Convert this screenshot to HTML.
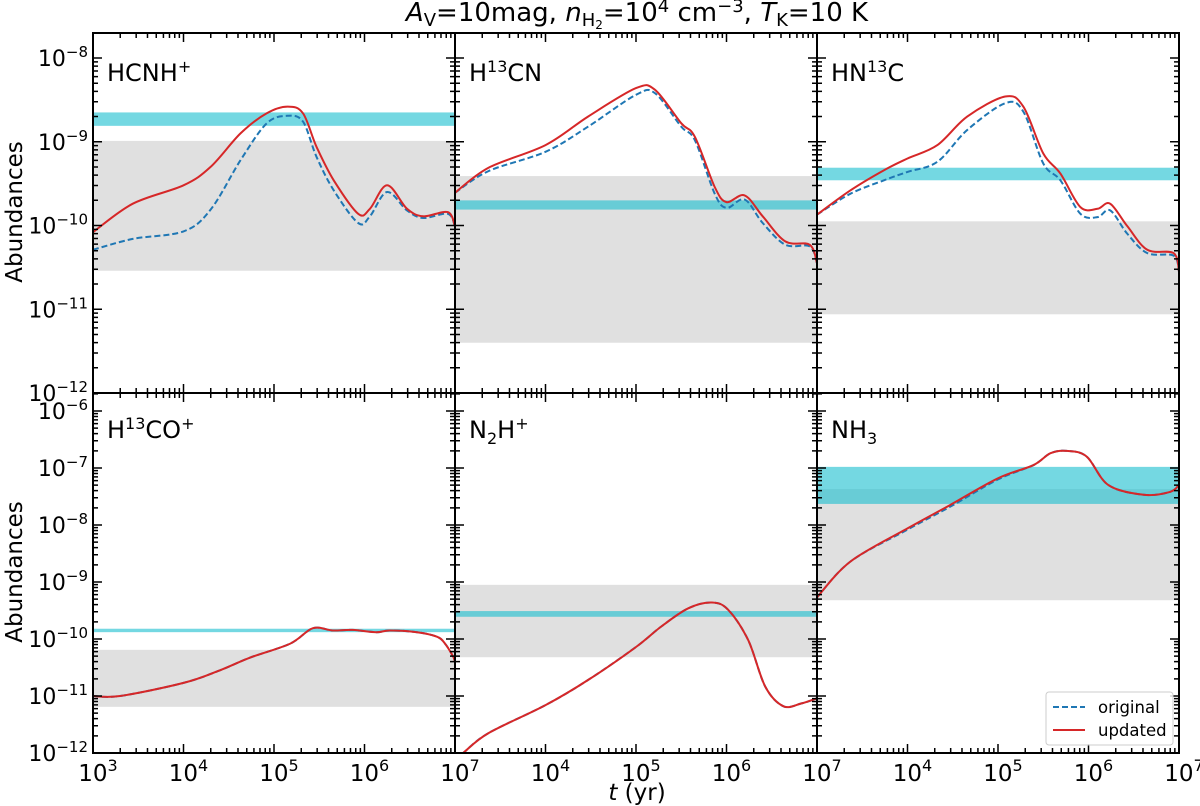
<!DOCTYPE html>
<html><head><meta charset="utf-8"><style>
html,body{margin:0;padding:0;background:#fff;}
svg{display:block;font-family:"DejaVu Sans","Liberation Sans",sans-serif;}
</style></head><body>
<svg id="chart" width="1200" height="806" viewBox="0 0 1200 806" xmlns="http://www.w3.org/2000/svg">
<text x="637" y="21" font-size="26" text-anchor="middle"><tspan font-style="italic">A</tspan><tspan font-size="18" dy="5">V</tspan><tspan dy="-5">=10mag, </tspan><tspan font-style="italic">n</tspan><tspan font-size="18" dy="5">H</tspan><tspan font-size="12" dy="3">2</tspan><tspan dy="-8">=10</tspan><tspan font-size="18" dy="-9">4</tspan><tspan dy="9"> cm</tspan><tspan font-size="18" dy="-9">−3</tspan><tspan dy="9">, </tspan><tspan font-style="italic">T</tspan><tspan font-size="18" dy="5">K</tspan><tspan dy="-5">=10 K</tspan></text>
<text x="637" y="800" font-size="23" text-anchor="middle"><tspan font-style="italic">t</tspan> (yr)</text>
<text transform="translate(22,212) rotate(-90)" font-size="23" text-anchor="middle">Abundances</text>
<text transform="translate(22,572) rotate(-90)" font-size="23" text-anchor="middle">Abundances</text>
<g id="panels"></g>
<g>
<rect x="1046" y="692" width="127" height="53" rx="3" fill="#fff" fill-opacity="0.85" stroke="#ccc" stroke-width="1"/>
<line x1="1053" y1="707" x2="1085" y2="707" stroke="#1f77b4" stroke-width="2" stroke-dasharray="6,3"/>
<text x="1098" y="713" font-size="16.5">original</text>
<line x1="1053" y1="730" x2="1085" y2="730" stroke="#d62728" stroke-width="2"/>
<text x="1098" y="736" font-size="16.5">updated</text>
</g>
</svg>
<script>
// ---- data (log10 time, log10 abundance) ----
const hcnhT   = [3.0, 3.44, 4.0, 4.3, 4.63, 4.92, 5.15, 5.32, 5.47, 5.66, 5.93, 6.06, 6.25, 6.47, 6.65, 6.92, 7.0];
const hcnhUpd = [-10.08, -9.74, -9.52, -9.30, -8.90, -8.66, -8.58, -8.66, -9.06, -9.46, -9.86, -9.80, -9.52, -9.80, -9.89, -9.84, -10.01];
const hcnhOrg = [-10.29, -10.16, -10.07, -9.81, -9.22, -8.78, -8.69, -8.76, -9.18, -9.58, -9.97, -9.89, -9.60, -9.82, -9.91, -9.86, -10.01];
const h13cnT   = [3.0, 3.37, 4.0, 4.47, 5.0, 5.21, 5.5, 5.65, 5.87, 6.0, 6.2, 6.4, 6.65, 6.92, 7.0];
const h13cnUpd = [-9.61, -9.31, -9.04, -8.70, -8.36, -8.38, -8.78, -8.94, -9.54, -9.72, -9.64, -9.89, -10.19, -10.23, -10.45];
const h13cnOrg = [-9.61, -9.35, -9.12, -8.82, -8.44, -8.42, -8.82, -8.98, -9.62, -9.79, -9.69, -9.97, -10.23, -10.25, -10.45];
const hn13cT   = [3.0, 3.37, 3.74, 4.0, 4.33, 4.66, 5.08, 5.28, 5.5, 5.69, 5.91, 6.1, 6.24, 6.43, 6.65, 6.94, 7.0];
const hn13cUpd = [-9.87, -9.58, -9.34, -9.20, -9.04, -8.70, -8.46, -8.58, -9.14, -9.38, -9.78, -9.80, -9.74, -10.01, -10.29, -10.33, -10.55];
const hn13cOrg = [-9.87, -9.62, -9.46, -9.36, -9.24, -8.86, -8.54, -8.64, -9.26, -9.46, -9.86, -9.90, -9.82, -10.10, -10.33, -10.36, -10.55];
const hcoT   = [3.0, 3.3, 4.0, 4.4, 4.73, 5.18, 5.43, 5.65, 5.87, 6.13, 6.28, 6.58, 6.80, 6.89, 6.98, 7.0];
const hcoUpd = [-11.0, -11.0, -10.77, -10.55, -10.33, -10.08, -9.81, -9.85, -9.84, -9.88, -9.85, -9.88, -9.96, -10.08, -10.31, -10.4];
const hcoOrg = [-11.0, -11.0, -10.77, -10.55, -10.33, -10.08, -9.81, -9.85, -9.84, -9.88, -9.85, -9.88, -9.96, -10.08, -10.31, -10.4];
const n2hT   = [3.0, 3.09, 3.37, 4.0, 4.47, 5.0, 5.28, 5.58, 5.84, 6.02, 6.24, 6.43, 6.63, 6.83, 7.0];
const n2hUpd = [-12.1, -12.0, -11.65, -11.16, -10.72, -10.14, -9.78, -9.46, -9.36, -9.49, -10.02, -10.84, -11.18, -11.13, -11.04];
const n2hOrg = [-12.1, -12.0, -11.65, -11.16, -10.72, -10.14, -9.78, -9.46, -9.36, -9.49, -10.02, -10.84, -11.18, -11.13, -11.04];
const nh3T   = [3.0, 3.37, 4.0, 4.47, 5.0, 5.39, 5.58, 5.76, 5.98, 6.22, 6.61, 6.90, 7.0];
const nh3Upd = [-9.27, -8.64, -8.06, -7.65, -7.18, -6.95, -6.74, -6.70, -6.80, -7.30, -7.47, -7.42, -7.30];
const nh3Org = [-9.27, -8.64, -8.08, -7.68, -7.20, -6.95, -6.74, -6.70, -6.80, -7.30, -7.47, -7.42, -7.30];
// observed ranges [low, high] in log10
const cyanBands = [[-8.81, -8.65], [-9.81, -9.70], [-9.46, -9.31], [-9.88, -9.82], [-9.61, -9.51], [-7.63, -6.98]];
const grayBands = [[-10.54, -8.99], [-11.40, -9.41], [-11.06, -9.95], [-11.19, -10.19], [-10.32, -9.05], [-9.32, -7.37]];
const panelNames = ["HCNH+", "H13CN", "HN13C", "H13CO+", "N2H+", "NH3"];
const xTickExps = [3, 4, 5, 6, 7];
const yTickExpsTop = [-8, -9, -10, -11, -12];
const yTickExpsBottom = [-6, -7, -8, -9, -10, -11, -12];

const NS = "http://www.w3.org/2000/svg";
const root = document.getElementById("panels");
function mk(tag, attrs, parent) {
  const e = document.createElementNS(NS, tag);
  for (const k in attrs) e.setAttribute(k, attrs[k]);
  (parent || root).appendChild(e);
  return e;
}
const colX = [93, 455, 817];
const PW = 362;
const rows = [{top: 33, bot: 393, ymin: -12, ymax: -12 + 360 / 83.75},
              {top: 393, bot: 753, ymin: -12, ymax: -12 + 360 / 57}];
const series = [
  [hcnhT, hcnhUpd, hcnhOrg], [h13cnT, h13cnUpd, h13cnOrg], [hn13cT, hn13cUpd, hn13cOrg],
  [hcoT, hcoUpd, hcoOrg], [n2hT, n2hUpd, n2hOrg], [nh3T, nh3Upd, nh3Org]];
const labels = [
  ['HCNH', ['+', 'sup']], ['H', ['13', 'sup'], 'CN'], ['HN', ['13', 'sup'], 'C'],
  ['H', ['13', 'sup'], 'CO', ['+', 'sup']], ['N', ['2', 'sub'], 'H', ['+', 'sup']], ['NH', ['3', 'sub']]];

function pathFrom(pts) {
  let d = "M" + pts[0][0].toFixed(1) + "," + pts[0][1].toFixed(1);
  for (let i = 0; i < pts.length - 1; i++) {
    const p0 = pts[Math.max(i - 1, 0)], p1 = pts[i], p2 = pts[i + 1], p3 = pts[Math.min(i + 2, pts.length - 1)];
    const c1 = [p1[0] + (p2[0] - p0[0]) / 6, p1[1] + (p2[1] - p0[1]) / 6];
    const c2 = [p2[0] - (p3[0] - p1[0]) / 6, p2[1] - (p3[1] - p1[1]) / 6];
    d += "C" + c1.map(v => v.toFixed(1)).join(",") + " " + c2.map(v => v.toFixed(1)).join(",") + " " + p2[0].toFixed(1) + "," + p2[1].toFixed(1);
  }
  return d;
}

for (let p = 0; p < 6; p++) {
  const r = rows[Math.floor(p / 3)], x0 = colX[p % 3];
  const xs = lt => x0 + (lt - 3) / 4 * PW;
  const ys = lv => r.bot - (lv - r.ymin) / (r.ymax - r.ymin) * (r.bot - r.top);
  const g = mk("g", {"clip-path": "url(#clip" + p + ")"});
  
  
  const cp = mk("clipPath", {id: "clip" + p});
  mk("rect", {x: x0, y: r.top, width: PW, height: r.bot - r.top}, cp);
  const gb = grayBands[p];
  const gr = mk("rect", {x: x0, y: ys(gb[1]), width: PW, height: ys(gb[0]) - ys(gb[1]), fill: "#e0e0e0"}, g);
  
  
  const cb = cyanBands[p];
  const cr = mk("rect", {x: x0, y: ys(cb[1]), width: PW, height: Math.max(3, ys(cb[0]) - ys(cb[1])), fill: "rgba(23,190,207,0.6)"}, g);
  
  
  const [T, U, O] = series[p];
  const po = mk("path", {d: pathFrom(T.map((t, i) => [xs(t), ys(O[i])])), fill: "none", stroke: "#1f77b4", "stroke-width": 2, "stroke-dasharray": "6,3"}, g);
  
  
  const pu = mk("path", {d: pathFrom(T.map((t, i) => [xs(t), ys(U[i])])), fill: "none", stroke: "#d62728", "stroke-width": 2}, g);
  
  
  const fr = mk("rect", {x: x0, y: r.top, width: PW, height: r.bot - r.top, fill: "none", stroke: "#000", "stroke-width": 2});
  
  
  let td = "";
  for (let e = 3; e <= 7; e++) {
    for (let m = 1; m <= 9; m++) {
      const lt = e + Math.log10(m);
      if (lt > 7.0001) break;
      const x = xs(lt), L = m === 1 ? 9 : 5;
      td += `M${x},${r.bot}v${-L}M${x},${r.top}v${L}`;
    }
  }
  for (let e = Math.floor(r.ymin); e <= Math.ceil(r.ymax); e++) {
    for (let m = 1; m <= 9; m++) {
      const lv = e + Math.log10(m);
      if (lv > r.ymax || lv < r.ymin) continue;
      const y = ys(lv), L = m === 1 ? 9 : 5;
      td += `M${x0},${y}h${L}M${x0 + PW},${y}h${-L}`;
    }
  }
  const tk = mk("path", {d: td, stroke: "#000", "stroke-width": 1.5, fill: "none"});
  
  
  const lab = mk("text", {x: x0 + 14, y: r.top + (p < 3 ? 48 : 45), "font-size": 24});
  
  
  let shift = 0;
  labels[p].forEach(part => {
    const ts = mk("tspan", {}, lab);
    if (typeof part === "string") { ts.textContent = part; ts.setAttribute("dy", -shift); shift = 0; }
    else {
      const d = part[1] === 'sup' ? -9 : 6;
      ts.textContent = part[0]; ts.setAttribute("font-size", 16); ts.setAttribute("dy", d - shift); shift = d;
    }
  });
  if (p % 3 === 0) {
    (p < 3 ? yTickExpsTop : yTickExpsBottom).forEach(e => {
      const t = mk("text", {x: 88, y: ys(e) + 8, "font-size": 22, "text-anchor": "end"});
      
      
      const a = mk("tspan", {}, t); a.textContent = "10";
      const b = mk("tspan", {"font-size": 15, dy: -9}, t); b.textContent = "−" + Math.abs(e);
    });
  }
  if (p >= 3) {
    xTickExps.forEach(e => {
      if (e === 3 && p !== 3) return;
      const t = mk("text", {x: xs(e) + 5, y: 781, "font-size": 23, "text-anchor": "middle"});
      
      
      const a = mk("tspan", {}, t); a.textContent = "10";
      const b = mk("tspan", {"font-size": 16, dy: -10}, t); b.textContent = String(e);
    });
  }
}
</script>
</body></html>
